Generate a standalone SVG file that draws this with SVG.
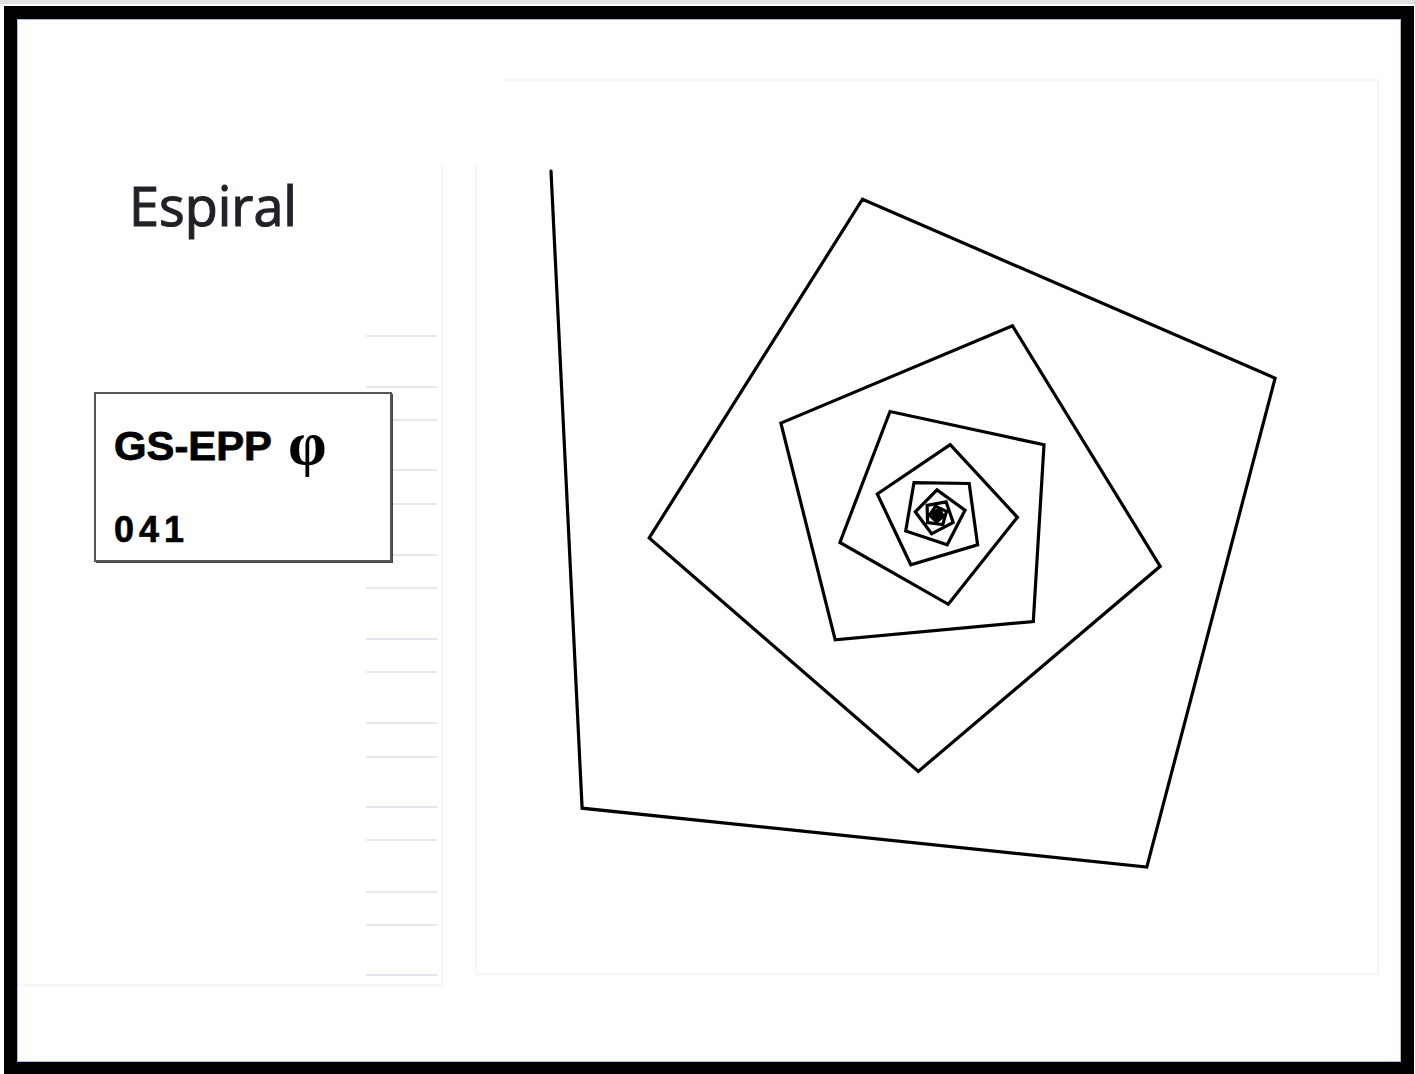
<svg xmlns="http://www.w3.org/2000/svg" width="1415" height="1074" viewBox="0 0 1415 1074">
<style>
.faint{stroke:#e3e6eb;stroke-width:2;fill:none}
.panel{stroke:#f3f3f3;stroke-width:1.5;fill:none}
.spiral{stroke:#000;stroke-width:3.2;fill:none;stroke-linejoin:miter;stroke-linecap:round}
</style>
<rect x="0" y="0" width="1415" height="1074" fill="#fff"/>
<rect x="0" y="0" width="1415" height="4" fill="#e0e0e0"/>
<g id="frame">
<rect x="10.5" y="12.5" width="1397" height="1056" fill="none" stroke="#000" stroke-width="13"/>
<rect x="17.5" y="19.5" width="1383" height="1042" fill="none" stroke="#a8b8e0" stroke-width="1"/>
</g>
<g id="panels">
<path class="panel" d="M442 165 V985 M18 985 H442"/>
<path class="panel" d="M505 80 H1378 V974 H476 V162"/>
</g>
<g id="rules">
<path class="faint" d="M366 336H437M366 387H437M366 420H437M366 470H437M366 504H437M366 555H437M366 588H437M366 639H437M366 672H437M366 723H437M366 757H437M366 807H437M366 840H437M366 892H437M366 925H437M366 975H437"/>
</g>
<g id="title">
<text x="129" y="226" font-family="'Open Sans','Noto Sans',sans-serif" font-size="54" fill="#1f2328" stroke="#1f2328" stroke-width="1.2" textLength="168" lengthAdjust="spacingAndGlyphs">Espiral</text>
</g>
<g id="label">
<rect x="96" y="394" width="297" height="169" fill="#444"/>
<rect x="95" y="393" width="296" height="168" fill="#fff" stroke="#555" stroke-width="2"/>
<text x="114" y="460" font-family="'Liberation Sans',Arial,sans-serif" font-weight="bold" font-size="40" fill="#000" stroke="#000" stroke-width="0.8" textLength="158" lengthAdjust="spacingAndGlyphs">GS-EPP</text>
<text x="288" y="464" font-family="'Liberation Serif',serif" font-weight="bold" font-size="62" fill="#000">φ</text>
<text x="114" y="542" font-family="'Liberation Sans',Arial,sans-serif" font-weight="bold" font-size="36" fill="#000" stroke="#000" stroke-width="0.6" textLength="70" lengthAdjust="spacing">041</text>
</g>
<g id="connectors">
<polyline class="spiral" points="551,171 582.1,808.2 1146.8,867.1 1275.1,378.2 862.5,199.2 649.2,537.9 918.3,771.4 1160.2,566.3 1012.5,325.8 780.9,423.1 835.2,639.9 1033.3,621.5 1044,444.8 890,411.5 839.9,542.5 948.3,604.3 1017.4,517.3 950.2,444.7 877.3,494 910.8,564.8 977.6,544.9 969.2,483.5 914,482.6 905.7,531 947.2,544.8 965,510.2 937,489.9 915.3,511.8 931.6,533.8 953.2,522.4 946.1,501.9 927.1,505.4 927.6,522.6 942.8,524.5 946.5,511.4 935.5,506.3 929.5,515.3 936.6,521.7 943.3,516.3 939.5,509.7 933.2,512.2 934.6,518.1 940,517.7 940.4,512.9 936.2,511.9 934.8,515.4 937.5,517 938.5,514.5 936.5,514 936.5,515.5"/>
</g>
</svg>
